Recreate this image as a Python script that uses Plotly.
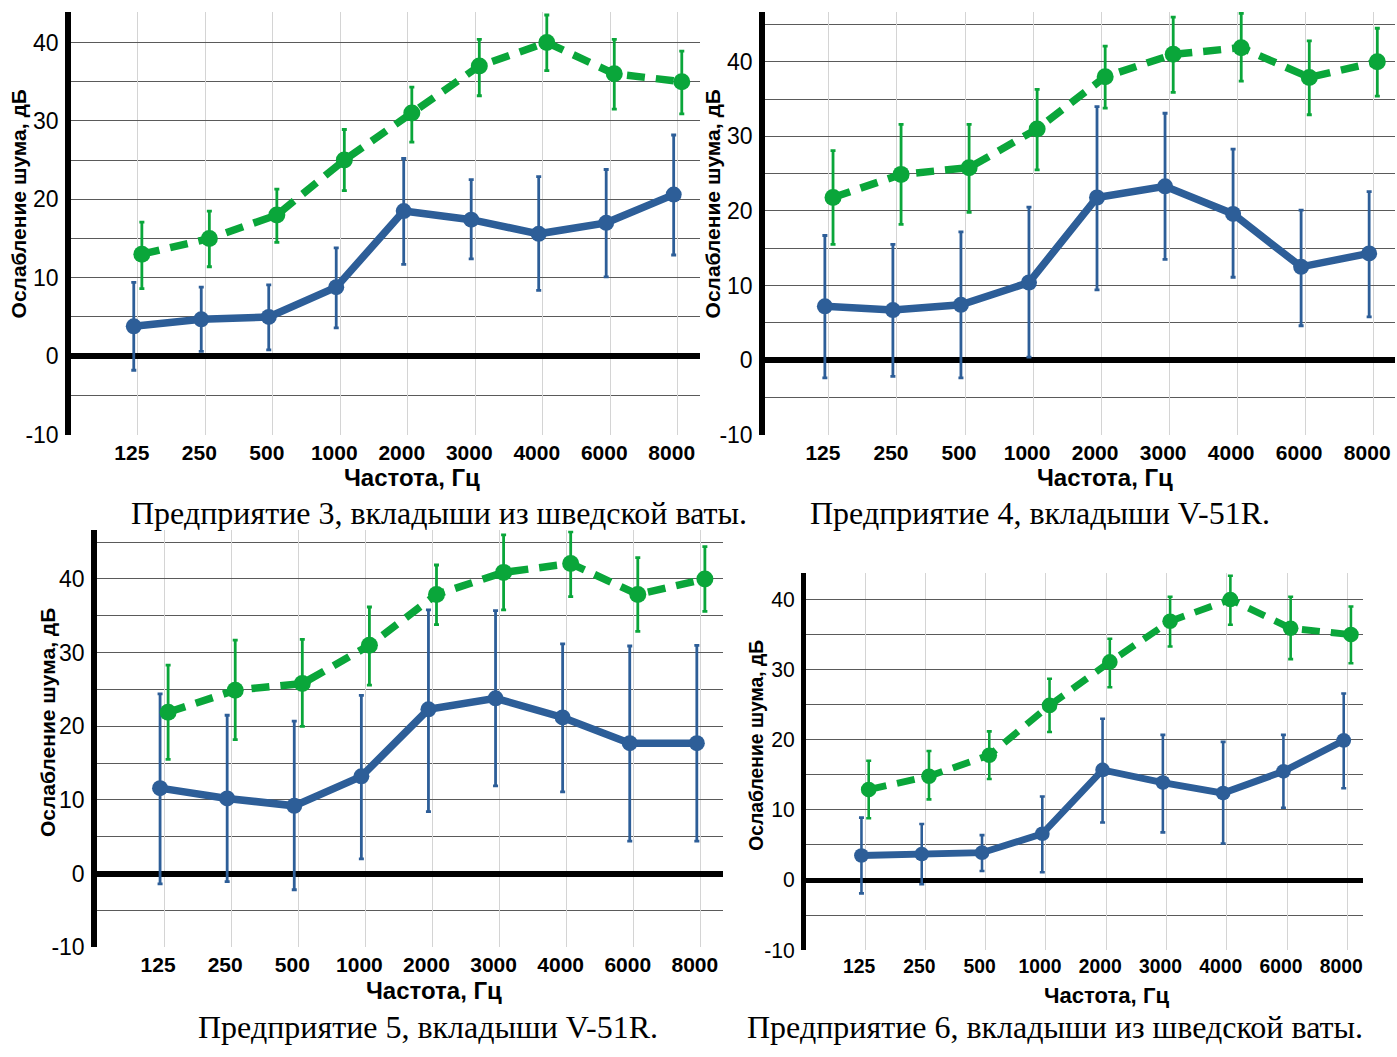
import plotly.graph_objects as go
import numpy as np

W, H = 1397, 1057

freq_labels = ["125", "250", "500", "1000", "2000", "3000", "4000", "6000", "8000"]
y_ticks = [-10, 0, 10, 20, 30, 40]
y_tick_labels = ["-10", "0", "10", "20", "30", "40"]

captions = [
    "Предприятие 3, вкладыши из шведской ваты.",
    "Предприятие 4, вкладыши V-51R.",
    "Предприятие 5, вкладыши V-51R.",
    "Предприятие 6, вкладыши из шведской ваты.",
]
y_title = "Ослабление шума, дБ"
x_title = "Частота, Гц"

# Panel 1 (Предприятие 3)
p1_green = [13, 15, 18, 25, 31, 37, 40, 36, 35]
p1_green_hi = [17.1, 18.5, 21.3, 28.9, 34.3, 40.4, 43.5, 40.4, 38.9]
p1_green_lo = [8.6, 11.4, 14.5, 21.1, 27.3, 33.2, 36.4, 31.5, 30.9]
p1_blue = [3.8, 4.7, 5.0, 8.8, 18.5, 17.4, 15.6, 17.0, 20.6]
p1_blue_hi = [9.4, 8.8, 9.1, 13.8, 25.2, 22.5, 22.9, 23.8, 28.2]
p1_blue_lo = [-1.8, 0.6, 0.8, 3.6, 11.7, 12.4, 8.4, 10.1, 12.9]

# Panel 2 (Предприятие 4)
p2_green = [21.8, 24.9, 25.8, 31.0, 38.0, 41.0, 41.9, 37.9, 40.0]
p2_green_hi = [28.1, 31.6, 31.6, 36.3, 42.1, 46.0, 46.5, 42.8, 44.5]
p2_green_lo = [15.5, 18.2, 19.8, 25.5, 33.8, 35.9, 37.4, 32.9, 35.4]
p2_blue = [7.2, 6.7, 7.4, 10.4, 21.8, 23.3, 19.6, 12.5, 14.3]
p2_blue_hi = [16.7, 15.5, 17.2, 20.5, 34.0, 33.1, 28.3, 20.1, 22.6]
p2_blue_lo = [-2.4, -2.2, -2.4, 0.4, 9.4, 13.5, 11.1, 4.6, 5.8]

# Panel 3 (Предприятие 5)
p3_green = [21.9, 24.9, 25.8, 31.0, 37.9, 40.9, 42.1, 37.9, 40.0]
p3_green_hi = [28.3, 31.7, 31.8, 36.2, 41.9, 46.0, 46.4, 42.9, 44.4]
p3_green_lo = [15.5, 18.2, 20.0, 25.6, 33.8, 35.8, 37.6, 32.9, 35.6]
p3_blue = [11.6, 10.2, 9.2, 13.2, 22.3, 23.8, 21.2, 17.7, 17.7]
p3_blue_hi = [24.4, 21.5, 20.7, 24.2, 35.8, 35.7, 31.2, 30.9, 31.0]
p3_blue_lo = [-1.4, -1.1, -2.2, 2.0, 8.4, 11.9, 11.1, 4.4, 4.4]

# Panel 4 (Предприятие 6)
p4_green = [12.9, 14.8, 17.8, 24.9, 31.1, 36.9, 40.0, 35.9, 35.0]
p4_green_hi = [17.0, 18.4, 21.2, 28.7, 34.4, 40.4, 43.4, 40.4, 39.0]
p4_green_lo = [8.8, 11.5, 14.4, 21.1, 27.5, 33.3, 36.4, 31.5, 30.9]
p4_blue = [3.5, 3.7, 3.9, 6.6, 15.7, 13.9, 12.4, 15.5, 19.9]
p4_blue_hi = [8.9, 8.0, 6.4, 11.9, 23.0, 20.7, 19.7, 20.7, 26.6]
p4_blue_lo = [-1.9, -0.6, 1.3, 1.1, 8.2, 6.8, 5.2, 10.3, 13.1]

BLUE = "#2d5e98"
GREEN = "#0aa63a"

panels = [
    dict(data=(p1_blue, p1_blue_hi, p1_blue_lo, p1_green, p1_green_hi, p1_green_lo),
         px=(71, 700), py=(12, 440), xr=(-0.99, 8.33), ytop=43.9, s=1.0,
         cap=(439, 519), xt=(412, 483), yt=(18, 207)),
    dict(data=(p2_blue, p2_blue_hi, p2_blue_lo, p2_green, p2_green_hi, p2_green_lo),
         px=(765, 1395), py=(12, 440), xr=(-0.94, 8.32), ytop=46.7, s=1.0,
         cap=(1040, 519), xt=(1105, 483), yt=(712, 207)),
    dict(data=(p3_blue, p3_blue_hi, p3_blue_lo, p3_green, p3_green_hi, p3_green_lo),
         px=(97, 723), py=(537, 959), xr=(-1.0, 8.33), ytop=46.6, s=1.0,
         cap=(428, 1040), xt=(434, 1003), yt=(48, 732)),
    dict(data=(p4_blue, p4_blue_hi, p4_blue_lo, p4_green, p4_green_hi, p4_green_lo),
         px=(806, 1363), py=(580, 962), xr=(-0.98, 8.26), ytop=43.8, s=0.92,
         cap=(1055, 1040), xt=(1106, 1008), yt=(757, 755)),
]

idx = np.arange(len(freq_labels))
fig = go.Figure()
annotations = []

for i, p in enumerate(panels, start=1):
    blue, bhi, blo, green, ghi, glo = (np.array(a) for a in p["data"])
    s = p["s"]
    xa = "x" if i == 1 else f"x{i}"
    ya = "y" if i == 1 else f"y{i}"

    fig.add_trace(go.Scatter(
        x=idx - 0.06, y=blue, mode="lines+markers", xaxis=xa, yaxis=ya,
        line=dict(color=BLUE, width=7.5 * s),
        marker=dict(color=BLUE, size=16 * s),
        error_y=dict(type="data", symmetric=False, array=bhi - blue, arrayminus=blue - blo,
                     color=BLUE, thickness=2.8 * s, width=2.5),
        showlegend=False, hoverinfo="skip"))
    fig.add_trace(go.Scatter(
        x=idx + 0.06, y=green, mode="lines+markers", xaxis=xa, yaxis=ya,
        line=dict(color=GREEN, width=7.5 * s, dash="18px,11px"),
        marker=dict(color=GREEN, size=17 * s),
        error_y=dict(type="data", symmetric=False, array=ghi - green, arrayminus=green - glo,
                     color=GREEN, thickness=2.8 * s, width=2.5),
        showlegend=False, hoverinfo="skip"))

    xkey = "xaxis" if i == 1 else f"xaxis{i}"
    ykey = "yaxis" if i == 1 else f"yaxis{i}"
    fig.update_layout({
        xkey: dict(
            domain=[p["px"][0] / W, p["px"][1] / W], anchor=ya,
            range=list(p["xr"]), tickvals=list(idx), ticktext=freq_labels,
            showgrid=True, gridcolor="#d4d4d4", gridwidth=1,
            zeroline=False, showline=False, ticks="",
            ticklabelshift=-6, ticklabelstandoff=3,
            tickfont=dict(family="Liberation Sans", size=21 * s, color="black", weight="bold"),
        ),
        ykey: dict(
            domain=[1 - p["py"][1] / H, 1 - p["py"][0] / H], anchor=xa,
            range=[-10, p["ytop"]], tickmode="array", tickvals=y_ticks, ticktext=y_tick_labels,
            showgrid=True, gridcolor="#5a5a5a", gridwidth=1,
            minor=dict(tickvals=[-5, 5, 15, 25, 35, 45], showgrid=True, gridcolor="#5a5a5a", gridwidth=1),
            zeroline=True, zerolinecolor="black", zerolinewidth=5.5 * s,
            showline=True, linecolor="black", linewidth=5.5 * s, ticks="",
            ticklabelstandoff=2,
            tickfont=dict(family="Liberation Sans", size=23 * s, color="black"),
        ),
    })

    annotations.append(dict(
        text=captions[i - 1], x=p["cap"][0] / W, y=1 - p["cap"][1] / H,
        xref="paper", yref="paper", xanchor="center", yanchor="middle", showarrow=False,
        font=dict(family="Liberation Serif", size=32, color="black")))
    annotations.append(dict(
        text=x_title, x=p["xt"][0] / W, y=1 - p["xt"][1] / H,
        xref="paper", yref="paper", xanchor="center", yanchor="middle", showarrow=False,
        font=dict(family="Liberation Sans", size=24 * s, color="black", weight="bold")))
    annotations.append(dict(
        text=y_title, x=p["yt"][0] / W, y=1 - p["yt"][1] / H, textangle=-90,
        xref="paper", yref="paper", xanchor="center", yanchor="middle", showarrow=False,
        font=dict(family="Liberation Sans", size=21 * s, color="black", weight="bold")))

fig.update_layout(
    width=W, height=H, margin=dict(l=0, r=0, t=0, b=0),
    paper_bgcolor="white", plot_bgcolor="white",
    annotations=annotations, showlegend=False,
)

fig.write_html("out.html")
